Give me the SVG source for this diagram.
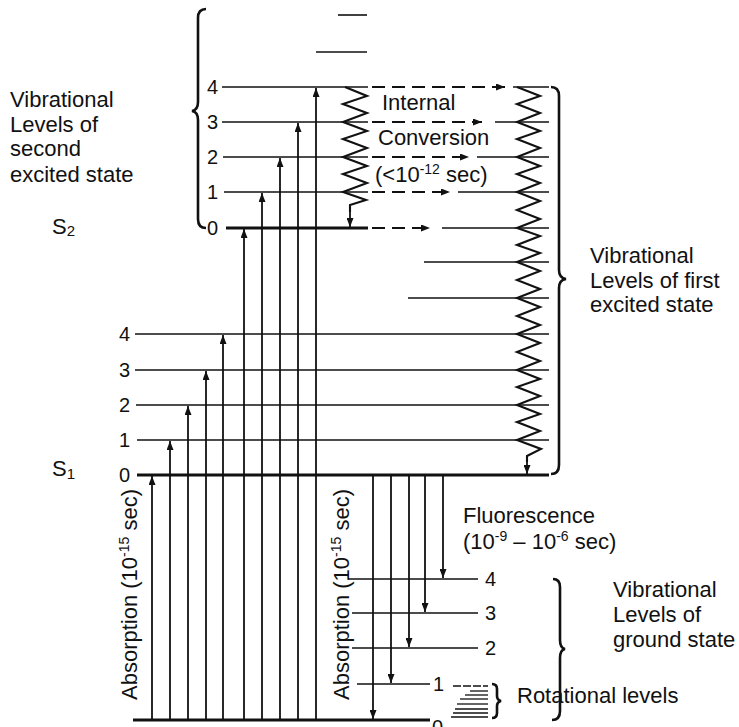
<svg xmlns="http://www.w3.org/2000/svg" width="739" height="727" viewBox="0 0 739 727">
<style>
.t{font-family:"Liberation Sans",Arial,sans-serif;font-size:22px;fill:#111}
.n{font-family:"Liberation Sans",Arial,sans-serif;font-size:20px;fill:#111}
.lv{stroke:#111;stroke-width:1.6;fill:none}
.lv0{stroke:#111;stroke-width:3;fill:none}
.ar{stroke:#111;stroke-width:1.8;fill:none;marker-end:url(#ah)}
.da{stroke:#111;stroke-width:1.8;fill:none;stroke-dasharray:13 7;marker-end:url(#ah)}
.zz{stroke:#111;stroke-width:2.1;fill:none;stroke-linejoin:miter}
.br{stroke:#111;stroke-width:2.6;fill:none}
.rl{stroke:#111;stroke-width:1.3;fill:none}
</style>
<defs>
<marker id="ah" markerUnits="userSpaceOnUse" markerWidth="10" markerHeight="7" refX="9" refY="3.5" orient="auto">
<path d="M0,0 L9,3.5 L0,7 z" fill="#111"/>
</marker>
</defs>
<rect width="739" height="727" fill="#fff"/>

<g id="s2-levels">
<line class="lv" x1="338" y1="15" x2="367" y2="15"/>
<line class="lv" x1="316" y1="52" x2="367" y2="52"/>
<line class="lv" x1="222" y1="87" x2="368" y2="87"/>
<line class="lv" x1="222" y1="122" x2="368" y2="122"/>
<line class="lv" x1="223" y1="157" x2="368" y2="157"/>
<line class="lv" x1="224" y1="192" x2="368" y2="192"/>
<line class="lv0" x1="226" y1="228" x2="368" y2="228"/>
<text class="n" x="207" y="94">4</text>
<text class="n" x="207" y="129">3</text>
<text class="n" x="207" y="164">2</text>
<text class="n" x="207" y="199">1</text>
<text class="n" x="207" y="235">0</text>
</g>

<g id="s1-levels">
<line class="lv" x1="513" y1="87" x2="549" y2="87"/>
<line class="lv" x1="495" y1="122" x2="549" y2="122"/>
<line class="lv" x1="477" y1="157" x2="549" y2="157"/>
<line class="lv" x1="458" y1="192" x2="549" y2="192"/>
<line class="lv" x1="442" y1="228" x2="549" y2="228"/>
<line class="lv" x1="424" y1="262" x2="549" y2="262"/>
<line class="lv" x1="408" y1="298" x2="549" y2="298"/>
<line class="lv" x1="135" y1="334" x2="549" y2="334"/>
<line class="lv" x1="135" y1="370" x2="549" y2="370"/>
<line class="lv" x1="136" y1="405" x2="549" y2="405"/>
<line class="lv" x1="137" y1="440" x2="549" y2="440"/>
<line class="lv0" x1="137" y1="475" x2="549" y2="475"/>
<text class="n" x="119" y="341">4</text>
<text class="n" x="119" y="377">3</text>
<text class="n" x="119" y="412">2</text>
<text class="n" x="119" y="447">1</text>
<text class="n" x="119" y="482">0</text>
</g>

<g id="ground-levels">
<line class="lv" x1="348" y1="579" x2="478" y2="579"/>
<line class="lv" x1="352" y1="613" x2="478" y2="613"/>
<line class="lv" x1="352" y1="648" x2="478" y2="648"/>
<line class="lv" x1="357" y1="684" x2="430" y2="684"/>
<line class="lv0" x1="133" y1="720" x2="430" y2="720"/>
<text class="n" x="485" y="586">4</text>
<text class="n" x="485" y="620">3</text>
<text class="n" x="485" y="655">2</text>
<text class="n" x="433" y="691">1</text>
<text class="n" x="432" y="734">0</text>
</g>

<g id="rotational-levels">
<line class="rl" x1="453" y1="686" x2="488" y2="686" stroke-dasharray="8 2"/>
<line class="rl" x1="470" y1="691" x2="488" y2="691"/>
<line class="rl" x1="465" y1="695" x2="488" y2="695"/>
<line class="rl" x1="460" y1="699" x2="488" y2="699"/>
<line class="rl" x1="457" y1="704" x2="488" y2="704"/>
<line class="rl" x1="455" y1="709" x2="488" y2="709"/>
<line class="rl" x1="453" y1="713" x2="488" y2="713"/>
<line class="rl" x1="451" y1="717" x2="488" y2="717"/>
</g>

<g id="connectors">
<line class="ar" x1="152" y1="720" x2="152" y2="476"/>
<line class="ar" x1="170" y1="720" x2="170" y2="441"/>
<line class="ar" x1="188" y1="720" x2="188" y2="406"/>
<line class="ar" x1="206" y1="720" x2="206" y2="371"/>
<line class="ar" x1="223" y1="720" x2="223" y2="335"/>
<line class="ar" x1="244" y1="720" x2="244" y2="229"/>
<line class="ar" x1="262" y1="720" x2="262" y2="193"/>
<line class="ar" x1="280" y1="720" x2="280" y2="158"/>
<line class="ar" x1="298" y1="720" x2="298" y2="123"/>
<line class="ar" x1="316" y1="720" x2="316" y2="88"/>
<line class="ar" x1="373" y1="475" x2="373" y2="719"/>
<line class="ar" x1="391" y1="475" x2="391" y2="683"/>
<line class="ar" x1="409" y1="475" x2="409" y2="647"/>
<line class="ar" x1="425" y1="475" x2="425" y2="612"/>
<line class="ar" x1="443" y1="475" x2="443" y2="578"/>
<line class="da" x1="372" y1="87" x2="505" y2="87"/>
<line class="da" x1="372" y1="122" x2="482" y2="122"/>
<line class="da" x1="372" y1="157" x2="469" y2="157"/>
<line class="da" x1="372" y1="192" x2="450" y2="192"/>
<line class="da" x1="372" y1="228" x2="430" y2="228"/>
<path class="zz" d="M345,87 L367,96 L343,104 L367,113 L343,122 L367,131 L343,139 L367,148 L343,157 L367,166 L343,174 L367,183 L343,192 L366,200 L350,205 L350,212"/>
<line class="ar" x1="350" y1="210" x2="350" y2="227"/>
<path class="zz" d="M517,87 L540,96 L517,104 L540,113 L517,122 L540,131 L517,139 L540,148 L517,157 L540,166 L517,174 L540,183 L517,192 L540,201 L517,210 L540,219 L517,228 L540,236 L517,245 L540,253 L517,262 L540,271 L517,280 L540,289 L517,298 L540,307 L517,316 L540,325 L517,334 L540,343 L517,352 L540,361 L517,370 L540,379 L517,387 L540,396 L517,405 L540,414 L517,422 L540,431 L517,440 L541,449 L527,456 L527,462"/>
<line class="ar" x1="527" y1="460" x2="527" y2="474"/>
</g>

<g id="brackets">
<path class="br" d="M206,9 Q198,9 198,18 L198,102 Q198,110 192,111 Q198,112 198,120 L198,219 Q198,228 206,228"/>
<path class="br" d="M551,87 Q559,87 559,96 L559,270 Q559,278 566,279 Q559,280 559,288 L559,465 Q559,474 551,474"/>
<path class="br" d="M553,579 Q560,579 560,587 L560,640 Q560,648 565,649 Q560,650 560,658 L560,711 Q560,720 552,720"/>
<path class="br" d="M492,684 Q497,684 497,689 L497,696 Q497,700 501,701 Q497,702 497,706 L497,713 Q497,718 492,718"/>
</g>

<g id="labels">
<text class="t" x="10" y="107">Vibrational</text>
<text class="t" x="10" y="132">Levels of</text>
<text class="t" x="10" y="156">second</text>
<text class="t" x="10" y="182">excited state</text>
<text class="t" x="52" y="234" font-size="21">S<tspan font-size="15" dy="2">2</tspan></text>
<text class="t" x="52" y="476" font-size="21">S<tspan font-size="15" dy="3">1</tspan></text>
<text class="t" x="382" y="110">Internal</text>
<text class="t" x="378" y="145">Conversion</text>
<text class="t" x="375" y="182">(&lt;10<tspan font-size="14" dy="-8">-12</tspan><tspan dy="8"> sec)</tspan></text>
<text class="t" x="590" y="263">Vibrational</text>
<text class="t" x="590" y="288">Levels of first</text>
<text class="t" x="590" y="312">excited state</text>
<text class="t" x="463" y="523">Fluorescence</text>
<text class="t" x="463" y="549">(10<tspan font-size="14" dy="-8">-9</tspan><tspan dy="8"> – 10</tspan><tspan font-size="14" dy="-8">-6</tspan><tspan dy="8"> sec)</tspan></text>
<text class="t" x="613" y="597">Vibrational</text>
<text class="t" x="613" y="622">Levels of</text>
<text class="t" x="613" y="647">ground state</text>
<text class="t" x="517" y="703">Rotational levels</text>
<text class="t" transform="translate(137,700) rotate(-90)">Absorption (10<tspan font-size="14" dy="-8">-15</tspan><tspan dy="8"> sec)</tspan></text>
<text class="t" transform="translate(349,700) rotate(-90)">Absorption (10<tspan font-size="14" dy="-8">-15</tspan><tspan dy="8"> sec)</tspan></text>
</g>
</svg>
